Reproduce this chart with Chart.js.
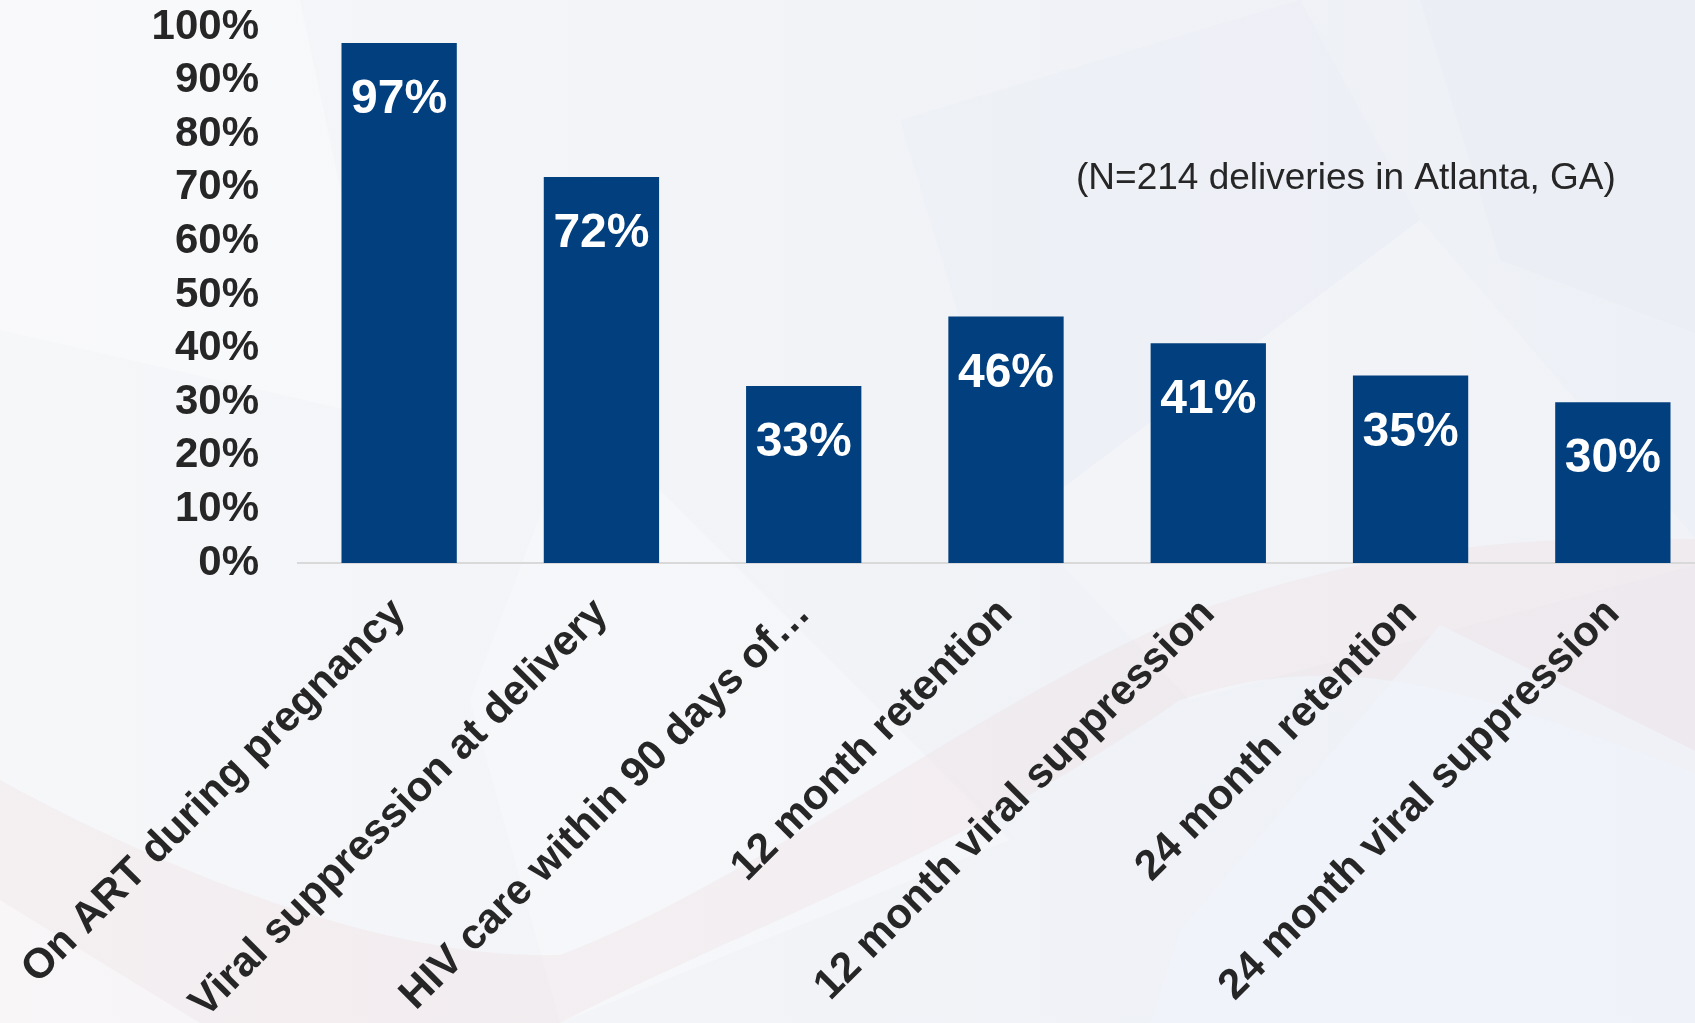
<!DOCTYPE html>
<html>
<head>
<meta charset="utf-8">
<script src="https://cdn.jsdelivr.net/npm/chart.js@4/dist/chart.umd.min.js"></script>
<style>
  html, body { margin: 0; padding: 0; overflow: hidden; background: #f3f5f8; }
  #wrap { position: absolute; left: 0; top: 0; width: 1714px; height: 1023px; }
</style>
</head>
<body>
<div id="wrap"><canvas id="chart" width="1714" height="1023"></canvas></div>
<script>
// Care cascade steps and the share of deliveries reaching each step
const categories = [
  'On ART during pregnancy',
  'Viral suppression at delivery',
  'HIV care within 90 days of\u2026',
  '12 month retention',
  '12 month viral suppression',
  '24 month retention',
  '24 month viral suppression'
];
const percentValues = [97, 72, 33, 46, 41, 35, 30];
const yTicks = [0, 10, 20, 30, 40, 50, 60, 70, 80, 90, 100];
const noteText = '(N=214 deliveries in Atlanta, GA)';

const BAR_BLUE = '#013f7e';
const TEXT_DARK = '#262626';
const FONT = '"Liberation Sans", Arial, sans-serif';

// Soft slide-style backdrop: pale gradient, faint facets and a pink sweep
const backdrop = {
  id: 'backdrop',
  beforeDraw(chart) {
    const ctx = chart.ctx;
    const w = chart.width, h = chart.height;
    ctx.save();
    const g = ctx.createLinearGradient(0, 0, w, 0);
    g.addColorStop(0, '#f6f7f9');
    g.addColorStop(0.5, '#f1f3f7');
    g.addColorStop(1, '#edf0f6');
    ctx.fillStyle = g;
    ctx.fillRect(0, 0, w, h);

    const poly = (pts, color) => {
      ctx.beginPath();
      ctx.moveTo(pts[0][0], pts[0][1]);
      for (let i = 1; i < pts.length; i++) ctx.lineTo(pts[i][0], pts[i][1]);
      ctx.closePath();
      ctx.fillStyle = color;
      ctx.fill();
    };
    // faint facets
    poly([[0, 0], [300, 0], [390, 420], [0, 330]], 'rgba(255,255,255,0.30)');
    poly([[580, 410], [1010, 840], [560, 1023], [470, 700]], 'rgba(255,255,255,0.25)');
    poly([[900, 120], [1300, 0], [1420, 220], [1020, 520]], 'rgba(228,233,243,0.18)');
    poly([[1420, 0], [1695, 0], [1714, 340], [1500, 260]], 'rgba(228,233,243,0.22)');
    poly([[1020, 520], [1420, 220], [1714, 560], [1190, 700]], 'rgba(255,255,255,0.18)');

    // pink sweep across the lower half
    ctx.beginPath();
    ctx.moveTo(0, 780);
    ctx.bezierCurveTo(220, 900, 420, 960, 560, 955);
    ctx.bezierCurveTo(760, 880, 980, 700, 1200, 610);
    ctx.bezierCurveTo(1400, 540, 1560, 535, 1714, 540);
    ctx.lineTo(1714, 780);
    ctx.bezierCurveTo(1500, 700, 1350, 640, 1180, 700);
    ctx.bezierCurveTo(950, 860, 760, 920, 560, 1023);
    ctx.lineTo(0, 1023);
    ctx.closePath();
    ctx.fillStyle = 'rgba(238,200,200,0.17)';
    ctx.fill();

    // lighter wedge below the sweep on the right
    poly([[1180, 930], [1440, 625], [1714, 760], [1714, 1023], [1150, 1023]], 'rgba(240,243,249,0.75)');
    // lighter corner bottom-left
    poly([[0, 900], [200, 1023], [0, 1023]], 'rgba(250,250,251,0.6)');
    ctx.restore();
  }
};

// Value labels inside the bars and the sample-size note
const annotations = {
  id: 'annotations',
  afterDatasetsDraw(chart) {
    const ctx = chart.ctx;
    const meta = chart.getDatasetMeta(0);
    ctx.save();
    ctx.fillStyle = '#ffffff';
    ctx.font = 'bold 48px ' + FONT;
    ctx.textAlign = 'center';
    ctx.textBaseline = 'middle';
    meta.data.forEach((bar, i) => {
      ctx.fillText(percentValues[i] + '%', bar.x, bar.y + 57);
    });
    ctx.fillStyle = TEXT_DARK;
    ctx.font = '37px ' + FONT;
    ctx.textAlign = 'left';
    ctx.textBaseline = 'alphabetic';
    ctx.fillText(noteText, 1076, 189);
    ctx.restore();
  }
};

new Chart(document.getElementById('chart'), {
  type: 'bar',
  data: {
    labels: categories,
    datasets: [{
      data: percentValues,
      backgroundColor: BAR_BLUE,
      borderWidth: 0,
      barPercentage: 0.57,
      categoryPercentage: 1.0
    }]
  },
  options: {
    responsive: false,
    animation: false,
    layout: { padding: { top: 27, right: 0, bottom: 0, left: 0 } },
    plugins: {
      legend: { display: false },
      tooltip: { enabled: false },
      title: { display: false }
    },
    scales: {
      y: {
        min: 0,
        max: 100,
        afterBuildTicks(scale) { scale.ticks = yTicks.map(v => ({ value: v })); },
        afterFit(scale) {
          scale.width = 298;
          scale.paddingTop = 0;
          scale.paddingBottom = 0;
        },
        grid: { display: false, drawTicks: false },
        border: { display: false },
        ticks: {
          autoSkip: false,
          padding: 39,
          color: TEXT_DARK,
          font: { family: FONT, size: 42, weight: 'bold' },
          callback: v => v + '%'
        }
      },
      x: {
        afterFit(scale) {
          scale.height = 460;
          scale.paddingLeft = 0;
          scale.paddingRight = 0;
        },
        grid: { display: false, drawTicks: false },
        border: { display: true, color: '#d9d9d9', width: 2 },
        ticks: {
          autoSkip: false,
          maxRotation: 45,
          minRotation: 45,
          padding: 26,
          color: TEXT_DARK,
          font: { family: FONT, size: 42, weight: 'bold' }
        }
      }
    }
  },
  plugins: [backdrop, annotations]
});
</script>
</body>
</html>
